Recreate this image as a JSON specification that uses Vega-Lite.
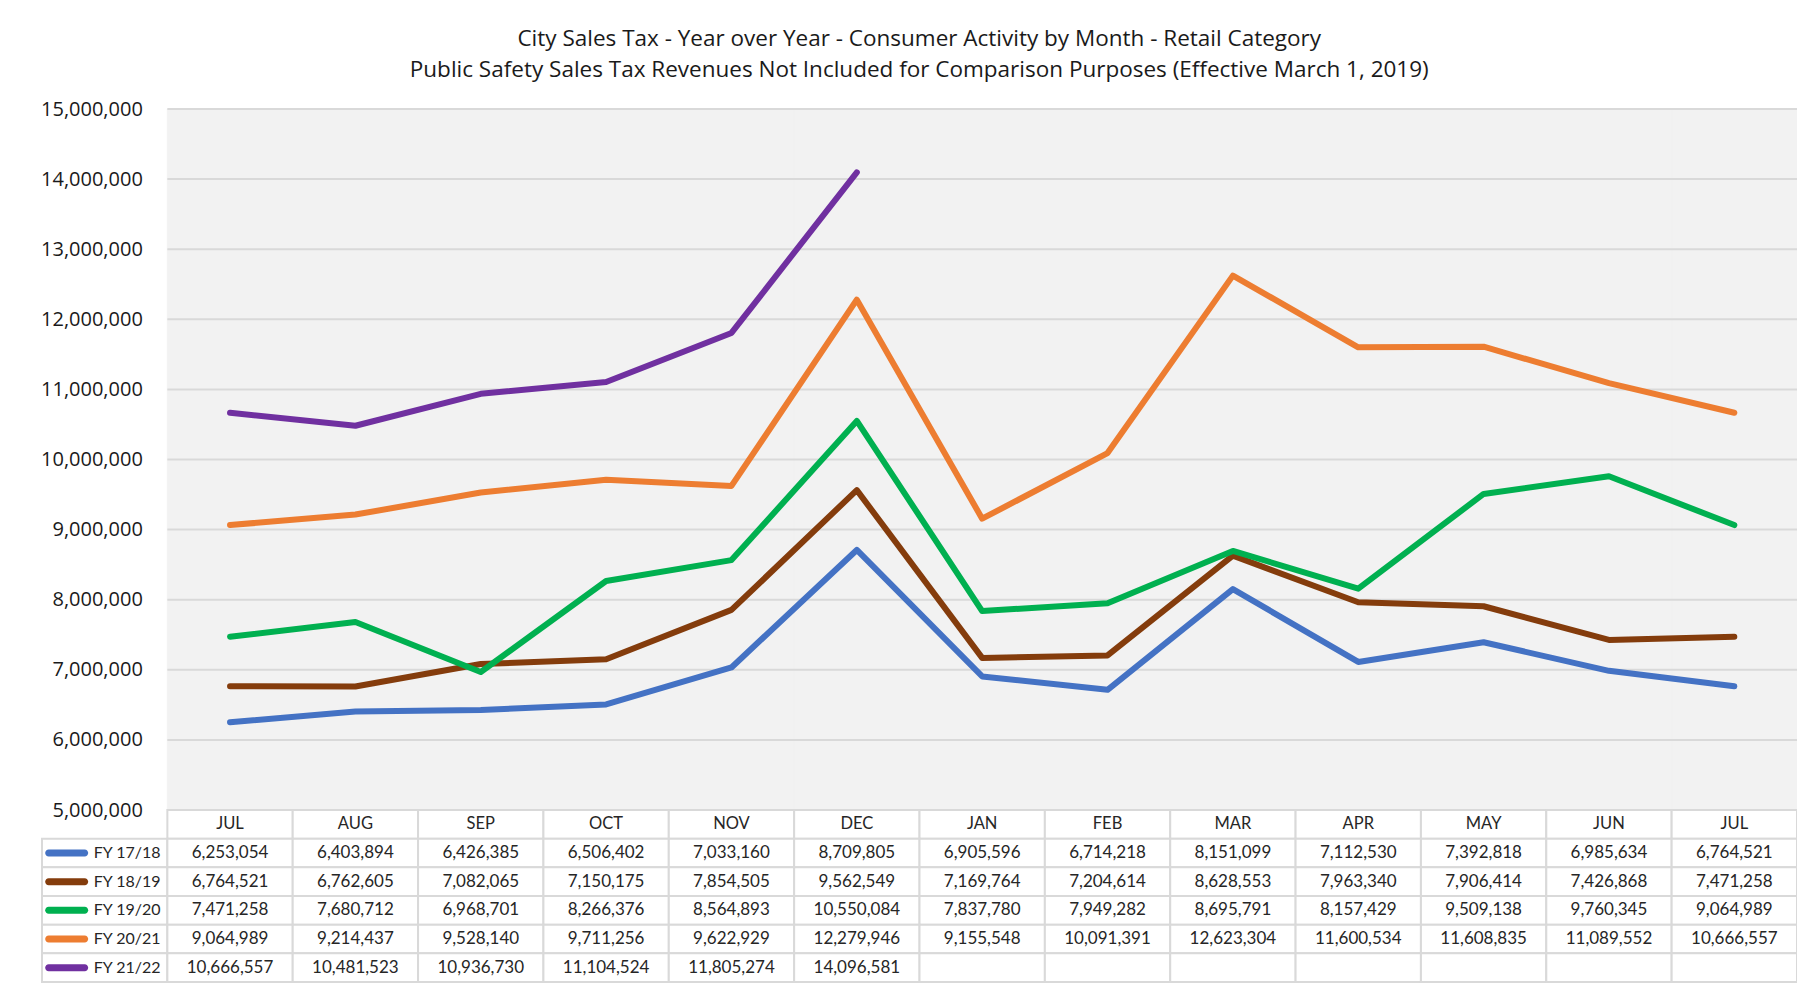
{
  "$schema": "https://vega.github.io/schema/vega-lite/v6.json",
  "padding": {"left": 40, "top": 27, "right": 2, "bottom": 2},
  "background": "white",
  "spacing": 0,
  "bounds": "flush",
  "title": {
    "text": ["City Sales Tax - Year over Year - Consumer Activity by Month - Retail Category", "Public Safety Sales Tax Revenues Not Included for Comparison Purposes (Effective March 1, 2019)"],
    "font": "Open Sans", "fontSize": 22.5, "fontWeight": "normal", "color": "#1a1a1a", "lineHeight": 31, "anchor": "middle", "offset": 18
  },
  "config": {"view": {"stroke": null}, "font": "Lato"},
  "datasets": {
    "months": [
      {"k": "01", "mo": "JUL"}, {"k": "02", "mo": "AUG"}, {"k": "03", "mo": "SEP"}, {"k": "04", "mo": "OCT"},
      {"k": "05", "mo": "NOV"}, {"k": "06", "mo": "DEC"}, {"k": "07", "mo": "JAN"}, {"k": "08", "mo": "FEB"},
      {"k": "09", "mo": "MAR"}, {"k": "10", "mo": "APR"}, {"k": "11", "mo": "MAY"}, {"k": "12", "mo": "JUN"}, {"k": "13", "mo": "JUL"}
    ],
    "series": [{"s": "FY 17/18"}, {"s": "FY 18/19"}, {"s": "FY 19/20"}, {"s": "FY 20/21"}, {"s": "FY 21/22"}],
    "grid": [{"g": 6000000}, {"g": 7000000}, {"g": 8000000}, {"g": 9000000}, {"g": 10000000}, {"g": 11000000}, {"g": 12000000}, {"g": 13000000}, {"g": 14000000}, {"g": 15000000}],
    "sales": [
      {"s": "FY 17/18", "k": "01", "v": 6253054}, {"s": "FY 17/18", "k": "02", "v": 6403894}, {"s": "FY 17/18", "k": "03", "v": 6426385},
      {"s": "FY 17/18", "k": "04", "v": 6506402}, {"s": "FY 17/18", "k": "05", "v": 7033160}, {"s": "FY 17/18", "k": "06", "v": 8709805},
      {"s": "FY 17/18", "k": "07", "v": 6905596}, {"s": "FY 17/18", "k": "08", "v": 6714218}, {"s": "FY 17/18", "k": "09", "v": 8151099},
      {"s": "FY 17/18", "k": "10", "v": 7112530}, {"s": "FY 17/18", "k": "11", "v": 7392818}, {"s": "FY 17/18", "k": "12", "v": 6985634},
      {"s": "FY 17/18", "k": "13", "v": 6764521},
      {"s": "FY 18/19", "k": "01", "v": 6764521}, {"s": "FY 18/19", "k": "02", "v": 6762605}, {"s": "FY 18/19", "k": "03", "v": 7082065},
      {"s": "FY 18/19", "k": "04", "v": 7150175}, {"s": "FY 18/19", "k": "05", "v": 7854505}, {"s": "FY 18/19", "k": "06", "v": 9562549},
      {"s": "FY 18/19", "k": "07", "v": 7169764}, {"s": "FY 18/19", "k": "08", "v": 7204614}, {"s": "FY 18/19", "k": "09", "v": 8628553},
      {"s": "FY 18/19", "k": "10", "v": 7963340}, {"s": "FY 18/19", "k": "11", "v": 7906414}, {"s": "FY 18/19", "k": "12", "v": 7426868},
      {"s": "FY 18/19", "k": "13", "v": 7471258},
      {"s": "FY 19/20", "k": "01", "v": 7471258}, {"s": "FY 19/20", "k": "02", "v": 7680712}, {"s": "FY 19/20", "k": "03", "v": 6968701},
      {"s": "FY 19/20", "k": "04", "v": 8266376}, {"s": "FY 19/20", "k": "05", "v": 8564893}, {"s": "FY 19/20", "k": "06", "v": 10550084},
      {"s": "FY 19/20", "k": "07", "v": 7837780}, {"s": "FY 19/20", "k": "08", "v": 7949282}, {"s": "FY 19/20", "k": "09", "v": 8695791},
      {"s": "FY 19/20", "k": "10", "v": 8157429}, {"s": "FY 19/20", "k": "11", "v": 9509138}, {"s": "FY 19/20", "k": "12", "v": 9760345},
      {"s": "FY 19/20", "k": "13", "v": 9064989},
      {"s": "FY 20/21", "k": "01", "v": 9064989}, {"s": "FY 20/21", "k": "02", "v": 9214437}, {"s": "FY 20/21", "k": "03", "v": 9528140},
      {"s": "FY 20/21", "k": "04", "v": 9711256}, {"s": "FY 20/21", "k": "05", "v": 9622929}, {"s": "FY 20/21", "k": "06", "v": 12279946},
      {"s": "FY 20/21", "k": "07", "v": 9155548}, {"s": "FY 20/21", "k": "08", "v": 10091391}, {"s": "FY 20/21", "k": "09", "v": 12623304},
      {"s": "FY 20/21", "k": "10", "v": 11600534}, {"s": "FY 20/21", "k": "11", "v": 11608835}, {"s": "FY 20/21", "k": "12", "v": 11089552},
      {"s": "FY 20/21", "k": "13", "v": 10666557},
      {"s": "FY 21/22", "k": "01", "v": 10666557}, {"s": "FY 21/22", "k": "02", "v": 10481523}, {"s": "FY 21/22", "k": "03", "v": 10936730},
      {"s": "FY 21/22", "k": "04", "v": 11104524}, {"s": "FY 21/22", "k": "05", "v": 11805274}, {"s": "FY 21/22", "k": "06", "v": 14096581},
      {"s": "FY 21/22", "k": "07", "v": null}, {"s": "FY 21/22", "k": "08", "v": null}, {"s": "FY 21/22", "k": "09", "v": null},
      {"s": "FY 21/22", "k": "10", "v": null}, {"s": "FY 21/22", "k": "11", "v": null}, {"s": "FY 21/22", "k": "12", "v": null},
      {"s": "FY 21/22", "k": "13", "v": null}
    ]
  },
  "vconcat": [
    {
      "width": 1755,
      "height": 701,
      "layer": [
        {
          "data": {"name": "months"},
          "mark": {"type": "rect", "color": "#f2f2f2", "stroke": "#f2f2f2", "strokeWidth": 1},
          "encoding": {
            "x": {"field": "k", "type": "nominal", "axis": null, "scale": {"type": "band", "domain": ["LEG", "01", "02", "03", "04", "05", "06", "07", "08", "09", "10", "11", "12", "13"], "paddingInner": 0, "paddingOuter": 0}},
            "y": {"datum": 5000000, "type": "quantitative", "scale": {"domain": [5000000, 15000000], "nice": false, "zero": false},
                  "axis": {"title": null, "values": [5000000, 6000000, 7000000, 8000000, 9000000, 10000000, 11000000, 12000000, 13000000, 14000000, 15000000], "format": ",d", "grid": false, "domain": false, "ticks": false, "tickSize": 0, "labelPadding": 25, "offset": -125.357, "labelFont": "Open Sans", "labelFontSize": 20, "labelColor": "#1a1a1a"}},
            "y2": {"datum": 15000000}
          }
        },
        {
          "data": {"name": "grid"},
          "mark": {"type": "rule", "color": "#d9d9d9", "strokeWidth": 2},
          "encoding": {
            "x": {"datum": "01", "type": "nominal", "bandPosition": 0},
            "x2": {"datum": "13", "bandPosition": 1},
            "y": {"field": "g", "type": "quantitative"}
          }
        },
        {
          "data": {"name": "sales"},
          "mark": {"type": "line", "strokeWidth": 6, "strokeCap": "round", "strokeJoin": "round"},
          "encoding": {
            "x": {"field": "k", "type": "nominal"},
            "y": {"field": "v", "type": "quantitative"},
            "color": {"field": "s", "type": "nominal", "legend": null,
                      "scale": {"domain": ["FY 17/18", "FY 18/19", "FY 19/20", "FY 20/21", "FY 21/22"], "range": ["#4472C4", "#843C0C", "#00B050", "#ED7D31", "#7030A0"]}}
          }
        }
      ]
    },
    {
      "width": 1755,
      "height": 172,
      "layer": [
        {
          "data": {"name": "months"},
          "mark": {"type": "rect", "fill": "white", "stroke": "#d9d9d9", "strokeWidth": 2},
          "encoding": {
            "x": {"field": "k", "type": "nominal", "axis": null, "scale": {"type": "band", "domain": ["LEG", "01", "02", "03", "04", "05", "06", "07", "08", "09", "10", "11", "12", "13"], "paddingInner": 0, "paddingOuter": 0}},
            "y": {"datum": "hdr", "type": "nominal", "axis": null, "scale": {"type": "band", "domain": ["hdr", "FY 17/18", "FY 18/19", "FY 19/20", "FY 20/21", "FY 21/22"], "paddingInner": 0, "paddingOuter": 0}}
          }
        },
        {
          "data": {"name": "months"},
          "mark": {"type": "text", "font": "Lato", "fontSize": 16.5, "color": "#262626"},
          "encoding": {
            "x": {"field": "k", "type": "nominal"},
            "y": {"datum": "hdr", "type": "nominal"},
            "text": {"field": "mo"}
          }
        },
        {
          "data": {"name": "series"},
          "mark": {"type": "rect", "fill": "white", "stroke": "#d9d9d9", "strokeWidth": 2},
          "encoding": {
            "x": {"datum": "LEG", "type": "nominal"},
            "y": {"field": "s", "type": "nominal"}
          }
        },
        {
          "data": {"name": "series"},
          "mark": {"type": "tick", "orient": "horizontal", "size": 43, "thickness": 7, "cornerRadius": 3.5, "xOffset": -38, "opacity": 1},
          "encoding": {
            "x": {"datum": "LEG", "type": "nominal"},
            "y": {"field": "s", "type": "nominal"},
            "color": {"field": "s", "type": "nominal", "legend": null,
                      "scale": {"domain": ["FY 17/18", "FY 18/19", "FY 19/20", "FY 20/21", "FY 21/22"], "range": ["#4472C4", "#843C0C", "#00B050", "#ED7D31", "#7030A0"]}}
          }
        },
        {
          "data": {"name": "series"},
          "mark": {"type": "text", "align": "left", "xOffset": -11, "font": "Lato", "fontSize": 16, "color": "#262626"},
          "encoding": {
            "x": {"datum": "LEG", "type": "nominal"},
            "y": {"field": "s", "type": "nominal"},
            "text": {"field": "s"}
          }
        },
        {
          "data": {"name": "sales"},
          "mark": {"type": "rect", "fill": "white", "stroke": "#d9d9d9", "strokeWidth": 2},
          "encoding": {
            "x": {"field": "k", "type": "nominal"},
            "y": {"field": "s", "type": "nominal"}
          }
        },
        {
          "data": {"name": "sales"},
          "transform": [{"filter": "isValid(datum.v)"}],
          "mark": {"type": "text", "font": "Lato", "fontSize": 17, "color": "#262626"},
          "encoding": {
            "x": {"field": "k", "type": "nominal"},
            "y": {"field": "s", "type": "nominal"},
            "text": {"field": "v", "type": "quantitative", "format": ",d"}
          }
        }
      ]
    }
  ]
}
